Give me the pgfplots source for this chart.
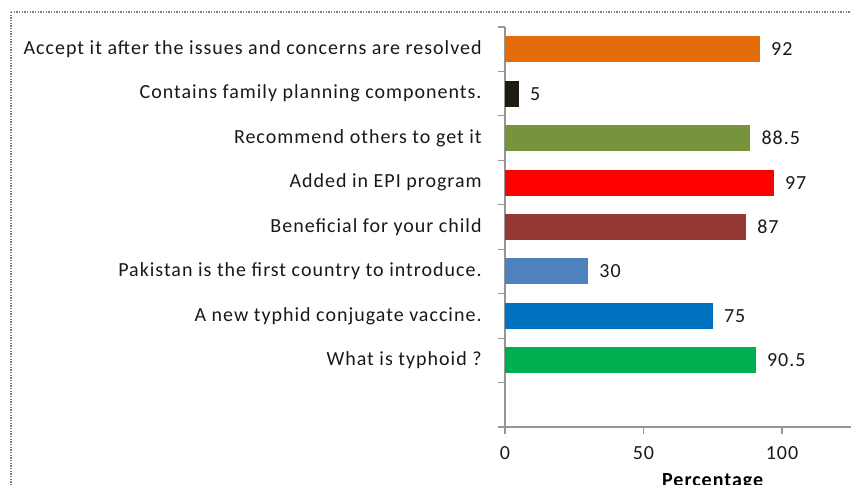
\documentclass[border=0pt]{standalone}
\usepackage{pgfplots}
\pgfplotsset{compat=1.18}
\usepackage{fontspec}
\setmainfont{Carlito}[LetterSpace=5]
\definecolor{cOrange}{HTML}{E46C0A}
\definecolor{cBlack}{HTML}{1F1A14}
\definecolor{cOlive}{HTML}{77933C}
\definecolor{cRed}{HTML}{FF0000}
\definecolor{cDarkRed}{HTML}{953735}
\definecolor{cSteel}{HTML}{4F81BD}
\definecolor{cBlue}{HTML}{0070C0}
\definecolor{cGreen}{HTML}{00B050}
\definecolor{axisgray}{HTML}{969696}
\newcommand{\fs}{\fontsize{15}{18}\selectfont}
\begin{document}
\begin{tikzpicture}
\begin{axis}[
  at={(378.75pt,43.5pt)}, anchor=south west,
  scale only axis, width=311.6pt, height=300pt,
  xmin=0, xmax=150, ymin=-0.5, ymax=8.5,
  axis lines*=left,
  axis line style={draw=axisgray, line width=0.8pt},
  xtick={0,50,100},
  ytick={1,...,8},
  yticklabels={What is typhoid ?, A new typhid conjugate vaccine., Pakistan is the first country to introduce., Beneficial for your child, Added in EPI program, Recommend others to get it, Contains family planning components., Accept it after the issues and concerns are resolved},
  minor ytick={-0.5,0.5,...,8.5},
  tick align=outside,
  major y tick style={draw=none},
  minor y tick style={draw=axisgray, line width=0.8pt},
  major x tick style={draw=axisgray, line width=0.8pt},
  minor tick length=5pt,
  major tick length=5pt,
  tick label style={font=\fs, text=black!90},
  yticklabel style={xshift=-9pt},
  xticklabel style={yshift=-6pt},
  /pgf/number format/assume math mode=true,
  point meta=x,
  nodes near coords,
  nodes near coords align=horizontal,
  every node near coord/.append style={font=\fs, text=black!90, xshift=5pt},
  xlabel={\bfseries Percentage},
  xlabel style={font=\fs, yshift=-4pt},
]
\addplot[xbar, bar width=19.5pt, fill=cGreen, draw=none] coordinates {(90.5,1)};
\addplot[xbar, bar width=19.5pt, fill=cBlue, draw=none] coordinates {(75,2)};
\addplot[xbar, bar width=19.5pt, fill=cSteel, draw=none] coordinates {(30,3)};
\addplot[xbar, bar width=19.5pt, fill=cDarkRed, draw=none] coordinates {(87,4)};
\addplot[xbar, bar width=19.5pt, fill=cRed, draw=none] coordinates {(97,5)};
\addplot[xbar, bar width=19.5pt, fill=cOlive, draw=none] coordinates {(88.5,6)};
\addplot[xbar, bar width=19.5pt, fill=cBlack, draw=none] coordinates {(5,7)};
\addplot[xbar, bar width=19.5pt, fill=cOrange, draw=none] coordinates {(92,8)};
\end{axis}
\draw[gray, densely dotted, line width=1pt] (8.25pt,354.75pt) rectangle (700pt,-30pt);
\pgfresetboundingbox
\path[use as bounding box] (0,0) rectangle (638.25pt,363.75pt);
\end{tikzpicture}
\end{document}
